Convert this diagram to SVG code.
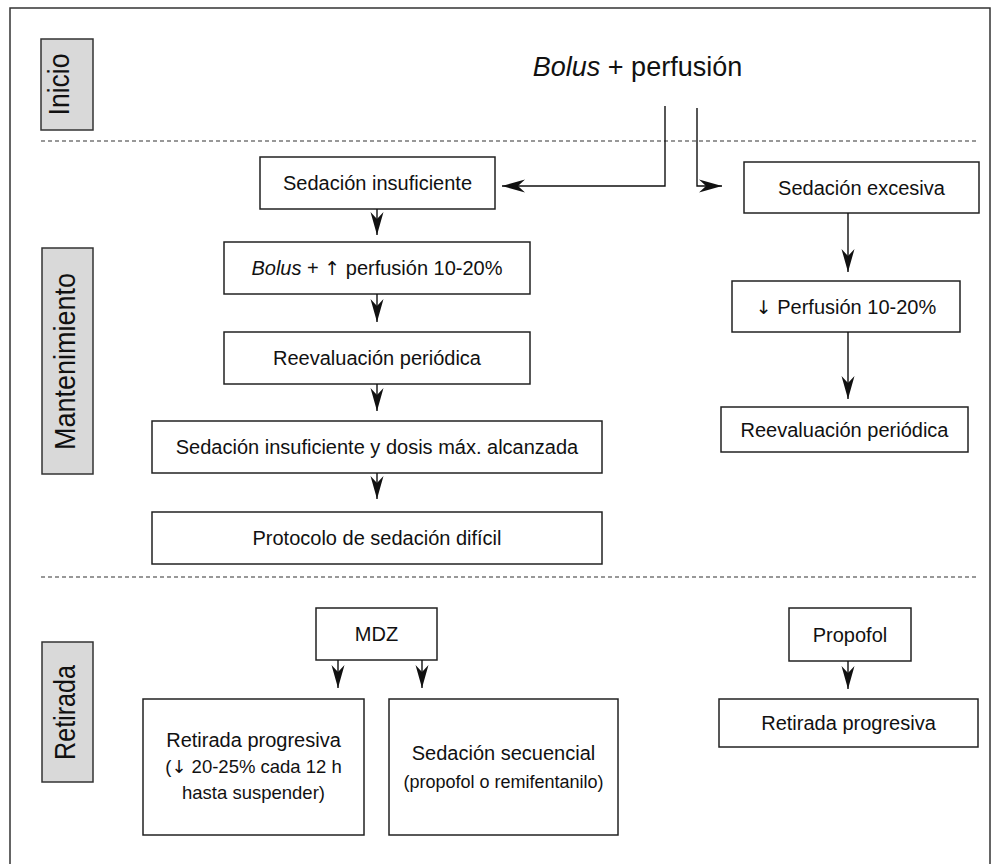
<svg xmlns="http://www.w3.org/2000/svg" width="998" height="864" viewBox="0 0 998 864">
<defs>
<marker id="ah" markerUnits="userSpaceOnUse" markerWidth="25" markerHeight="14" viewBox="-24 -7 25 14" refX="0" refY="0" orient="auto">
<path d="M0,0 L-23,-6.5 L-16,0 L-23,6.5 Z" fill="#111"/>
</marker>
</defs>
<style>
text{font-family:"Liberation Sans",Arial,sans-serif;fill:#111;}
.box{fill:#fff;stroke:#222;stroke-width:1.5;}
.lab{fill:#d9d9d9;stroke:#333;stroke-width:1.5;}
.t{font-size:20px;text-anchor:middle;}
.s{font-size:18.5px;text-anchor:middle;}
.sec{font-size:29px;text-anchor:middle;}
.arr{font-family:"DejaVu Sans",sans-serif;font-size:19px;fill:#111;}
.dash{stroke:#333;stroke-width:1.2;stroke-dasharray:4 3;fill:none;}
.con path{fill:none;stroke:#111;stroke-width:1.4;marker-end:url(#ah);}
</style>
<rect x="10" y="8" width="980" height="870" fill="#fff" stroke="#333" stroke-width="1.5"/>
<line class="dash" x1="41" y1="141" x2="978" y2="141"/>
<line class="dash" x1="41" y1="577" x2="978" y2="577"/>

<g id="lab-inicio"><rect class="lab" x="41" y="39" width="52" height="91"/>
<text class="sec" transform="translate(69,84.5) rotate(-90)" textLength="62" lengthAdjust="spacingAndGlyphs">Inicio</text></g>
<g id="lab-mant"><rect class="lab" x="42" y="248" width="51" height="226"/>
<text class="sec" transform="translate(75,361.5) rotate(-90)" textLength="177" lengthAdjust="spacingAndGlyphs">Mantenimiento</text></g>
<g id="lab-ret"><rect class="lab" x="42" y="642" width="51" height="140"/>
<text class="sec" transform="translate(75,712.5) rotate(-90)" textLength="95" lengthAdjust="spacingAndGlyphs">Retirada</text></g>

<g id="start"><text x="637.5" y="76" style="font-size:27px;text-anchor:middle;"><tspan font-style="italic">Bolus</tspan> + perfusión</text></g>

<g id="n-insuf"><rect class="box" x="260" y="157" width="235" height="52"/><text class="t" x="377.5" y="190">Sedación insuficiente</text></g>
<g id="n-bolus"><rect class="box" x="224" y="242" width="306" height="52"/><text class="t" x="377" y="275"><tspan font-style="italic">Bolus</tspan> + <tspan class="arr">↑</tspan> perfusión 10-20%</text></g>
<g id="n-reeval1"><rect class="box" x="224" y="332" width="306" height="52"/><text class="t" x="377" y="365">Reevaluación periódica</text></g>
<g id="n-dosis"><rect class="box" x="152" y="421" width="450" height="52"/><text class="t" x="377" y="454">Sedación insuficiente y dosis máx. alcanzada</text></g>
<g id="n-protocolo"><rect class="box" x="152" y="512" width="450" height="52"/><text class="t" x="377" y="545">Protocolo de sedación difícil</text></g>

<g id="n-exces"><rect class="box" x="744" y="162" width="235" height="51"/><text class="t" x="861.5" y="194.5">Sedación excesiva</text></g>
<g id="n-perf"><rect class="box" x="732" y="281" width="228" height="51"/><text class="t" x="846" y="313.5"><tspan class="arr">↓</tspan> Perfusión 10-20%</text></g>
<g id="n-reeval2"><rect class="box" x="721" y="407" width="247" height="45"/><text class="t" x="844.5" y="436.5">Reevaluación periódica</text></g>

<g id="n-mdz"><rect class="box" x="316" y="608" width="121" height="52"/><text class="t" x="376.5" y="641">MDZ</text></g>
<g id="n-propofol"><rect class="box" x="789" y="608" width="122" height="53"/><text class="t" x="850" y="641.5">Propofol</text></g>
<g id="n-retprog"><rect class="box" x="143" y="699" width="221" height="136"/>
<text class="t" x="253.5" y="747">Retirada progresiva</text>
<text class="s" x="253.5" y="773">(<tspan class="arr" style="font-size:18px">↓</tspan> 20-25% cada 12 h</text>
<text class="s" x="253.5" y="799">hasta suspender)</text></g>
<g id="n-secuencial"><rect class="box" x="389" y="699" width="229" height="136"/>
<text class="t" x="503.5" y="760">Sedación secuencial</text>
<text class="s" x="503.5" y="788" style="font-size:18px">(propofol o remifentanilo)</text></g>
<g id="n-retprog2"><rect class="box" x="719" y="699" width="259" height="48"/><text class="t" x="848.5" y="730">Retirada progresiva</text></g>

<g id="connectors" class="con">
<path d="M665,106 V186 H502"/>
<path d="M697,108 V186 H722"/>
<path d="M377,209 V235"/>
<path d="M377,294 V322"/>
<path d="M377,384 V411"/>
<path d="M377,473 V499"/>
<path d="M848,213 V272"/>
<path d="M848,332 V399"/>
<path d="M338,660 V688"/>
<path d="M422,660 V688"/>
<path d="M848,661 V689"/>
</g>
</svg>
